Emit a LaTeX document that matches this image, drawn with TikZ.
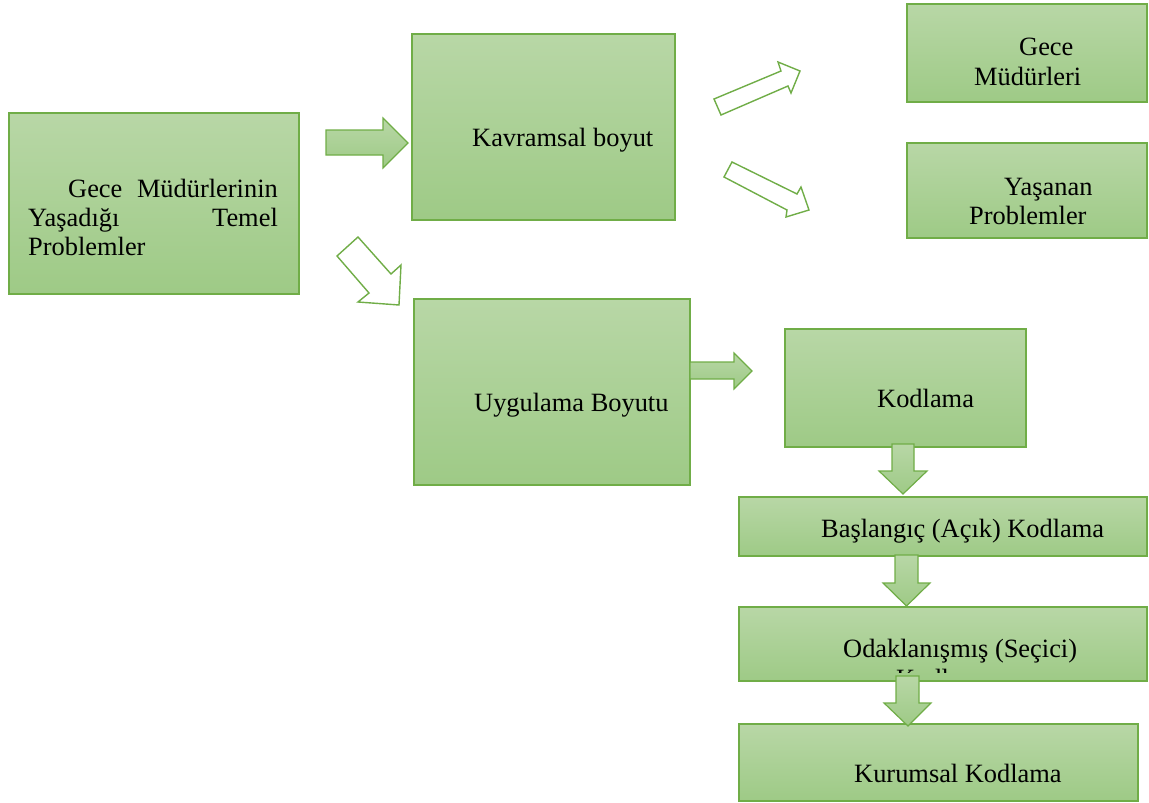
\documentclass[tikz,border=0pt]{standalone}
\usepackage{fontspec}
\setmainfont{Liberation Serif}
\begin{document}
\begin{tikzpicture}[x=1pt,y=-1pt,
  box/.style={draw=edgegreen, line width=1.3pt, top color=topgreen, bottom color=botgreen, inner sep=0pt},
  lbl/.style={inner sep=0pt, font=\fontsize{26.4}{29.5}\selectfont},
  solidarrow/.style={draw=edgegreen, line width=1.2pt, top color=topgreen, bottom color=botgreen, line join=miter},
  hollowarrow/.style={draw=edgegreen, line width=1.4pt, fill=white, line join=miter}]
\definecolor{edgegreen}{RGB}{112,173,71}
\definecolor{topgreen}{RGB}{184,215,166}
\definecolor{botgreen}{RGB}{158,202,134}
\useasboundingbox (0,0) rectangle (1149,803);

% boxes
\node[box, minimum width=290pt, minimum height=181pt] (main) at (154,203.5) {};
\node[box, minimum width=263pt, minimum height=186pt] (kavram) at (543.5,127) {};
\node[box, minimum width=240pt, minimum height=98pt] (gece) at (1027,53) {};
\node[box, minimum width=240pt, minimum height=95pt] (yasanan) at (1027,190.5) {};
\node[box, minimum width=276pt, minimum height=186pt] (uygulama) at (552,392) {};
\node[box, minimum width=241pt, minimum height=118pt] (kodlama) at (905.5,388) {};
\node[box, minimum width=408pt, minimum height=59pt] (baslangic) at (943,526.5) {};
\node[box, minimum width=408pt, minimum height=74pt] (odak) at (943,644) {};
\node[box, minimum width=399pt, minimum height=77pt] (kurumsal) at (938.5,762.5) {};

% labels
\node[lbl, anchor=base west] (t1a) at (68,197) {Gece};
\node[lbl, anchor=base east] (t1b) at (278,197) {Müdürlerinin};
\node[lbl, anchor=base west] (t1c) at (28,226) {Yaşadığı};
\node[lbl, anchor=base east] (t1d) at (278,226) {Temel};
\node[lbl, anchor=base west] (t1e) at (28,255) {Problemler};
\node[lbl, anchor=base west] (t2) at (472,146) {Kavramsal boyut};
\node[lbl, anchor=base west] (t3a) at (1019,55) {Gece};
\node[lbl, anchor=base west] (t3b) at (974,85) {Müdürleri};
\node[lbl, anchor=base west] (t4a) at (1004,195) {Yaşanan};
\node[lbl, anchor=base west] (t4b) at (969,224) {Problemler};
\node[lbl, anchor=base west] (t5) at (474,411) {Uygulama Boyutu};
\node[lbl, anchor=base west] (t6) at (877,407) {Kodlama};
\node[lbl, anchor=base west] (t7) at (821,537) {Başlangıç (Açık) Kodlama};
\node[lbl, anchor=base west] (t8) at (843,657) {Odaklanışmış (Seçici)};
% second line of the label runs past the frame and is cut off
\begin{scope}
  \clip (739,607) rectangle (1147,672);
  \node[lbl, anchor=base west] (t8b) at (896,687) {Kodlama};
\end{scope}
\node[lbl, anchor=base west] (t9) at (854,782) {Kurumsal Kodlama};

% solid block arrows
\path[solidarrow] (326,130) -- (383,130) -- (383,118) -- (408,143) -- (383,168) -- (383,155) -- (326,155) -- cycle;
\path[solidarrow] (690,362) -- (734,362) -- (734,353) -- (752,371) -- (734,389) -- (734,379) -- (690,379) -- cycle;
\path[solidarrow] (892,444) -- (914,444) -- (914,471) -- (927,471) -- (903,494) -- (879,471) -- (892,471) -- cycle;
\path[solidarrow] (895,555) -- (918,555) -- (918,583) -- (930,583) -- (906.5,606) -- (883,583) -- (895,583) -- cycle;
\path[solidarrow] (896,676) -- (919,676) -- (919,703) -- (931,703) -- (908,726) -- (884,703) -- (896,703) -- cycle;

% outlined block arrows
\path[hollowarrow] (337,256) -- (358,237) -- (391,274) -- (401,265) -- (399,305) -- (358,302) -- (369,293) -- cycle;
\path[hollowarrow] (714,99) -- (781,71) -- (778,62) -- (800,71) -- (791,93) -- (788,86) -- (721,115) -- cycle;
\path[hollowarrow] (732,162) -- (797,194) -- (801,187) -- (809,210) -- (786,217) -- (787,210) -- (724,177) -- cycle;
\end{tikzpicture}
\end{document}
